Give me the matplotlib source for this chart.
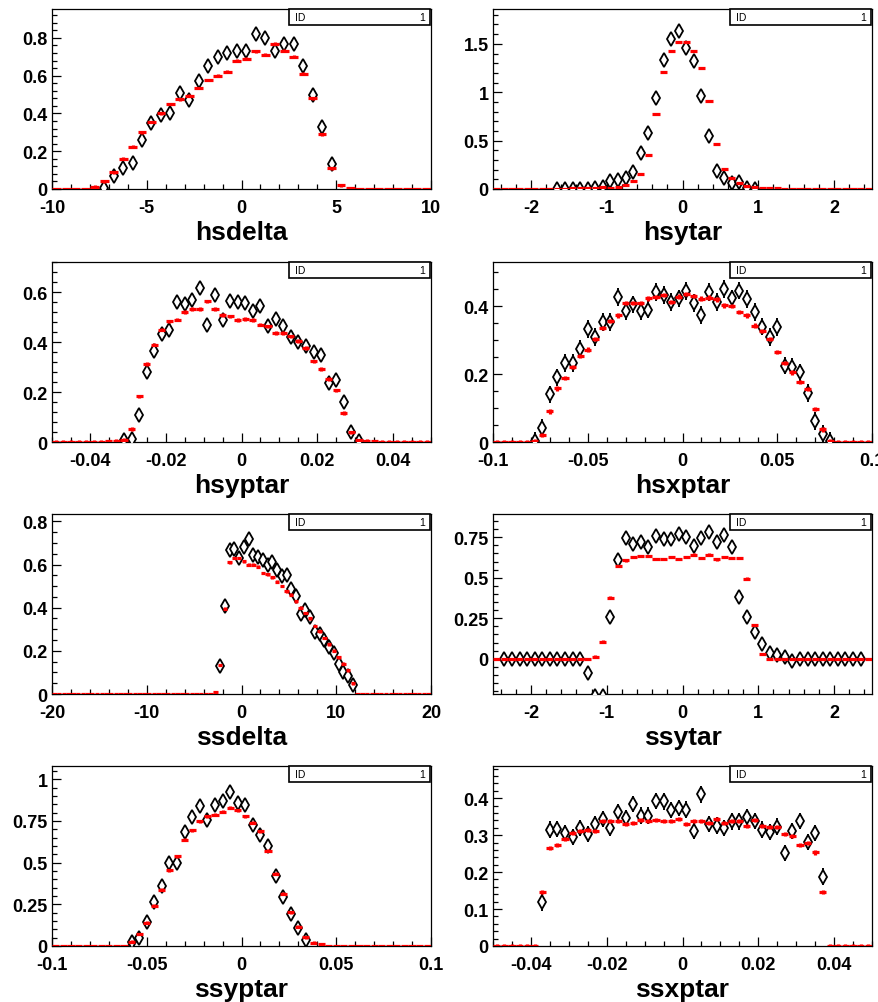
import numpy as np
import matplotlib
matplotlib.use("Agg")
import matplotlib.pyplot as plt
from matplotlib.ticker import MultipleLocator, FuncFormatter
from matplotlib.patches import Rectangle

plt.rcParams['font.family'] = ['Liberation Sans', 'DejaVu Sans']

# --- data (bin contents) ---
# hsdelta: 40 bins on [-10,10]
hsdelta_data = [0.005, 0.07, 0.11, 0.14, 0.26, 0.35, 0.39, 0.40, 0.51, 0.47, 0.57, 0.65, 0.70,
                0.72, 0.73, 0.73, 0.82, 0.80, 0.73, 0.77, 0.77, 0.65, 0.50, 0.33, 0.135]
hsdelta_mc = [0.012, 0.04, 0.088, 0.16, 0.225, 0.30, 0.355, 0.40, 0.45, 0.475, 0.495, 0.535, 0.577,
              0.60, 0.62, 0.68, 0.69, 0.73, 0.71, 0.77, 0.733, 0.70, 0.61, 0.48, 0.29, 0.11, 0.02, 0.003]

# hsytar: 50 bins on [-2.5,2.5]
hsytar_data = [0.002, 0.002, 0.003, 0.003, 0.004, 0.008, 0.02, 0.08, 0.09, 0.115, 0.18, 0.37, 0.58,
               0.94, 1.33, 1.545, 1.63, 1.455, 1.32, 0.96, 0.55, 0.185, 0.11, 0.06, 0.07, 0.01, 0.004]
hsytar_mc = [0.005, 0.006, 0.008, 0.01, 0.012, 0.02, 0.015, 0.02, 0.04, 0.085, 0.155, 0.35, 0.78,
             1.21, 1.43, 1.52, 1.52, 1.43, 1.25, 0.91, 0.47, 0.205, 0.11, 0.06, 0.035, 0.017,
             0.01, 0.008, 0.006, 0.005, 0.005, 0.004, 0.004]

# hsyptar: 50 bins on [-0.05,0.05]
hsyptar_data = [0.008, 0.012, 0.107, 0.28, 0.363, 0.432, 0.45, 0.56, 0.553, 0.57, 0.616, 0.47, 0.59,
                0.49, 0.563, 0.56, 0.556, 0.523, 0.545, 0.463, 0.492, 0.465, 0.42, 0.40, 0.383,
                0.36, 0.35, 0.236, 0.25, 0.16, 0.039, 0.005]
hsyptar_mc = [0.003, 0.005, 0.01, 0.053, 0.183, 0.312, 0.39, 0.45, 0.483, 0.49, 0.52, 0.532, 0.532,
              0.563, 0.532, 0.508, 0.503, 0.488, 0.493, 0.488, 0.47, 0.463, 0.436, 0.436, 0.423,
              0.405, 0.376, 0.323, 0.292, 0.253, 0.207, 0.116, 0.039, 0.007, 0.005, 0.003]

# hsxptar: 50 bins on [-0.1,0.1]
hsxptar_data = [0.003, 0.041, 0.14, 0.19, 0.232, 0.232, 0.274, 0.333, 0.31, 0.353, 0.353, 0.427,
                0.385, 0.405, 0.385, 0.39, 0.442, 0.433, 0.413, 0.423, 0.444, 0.41, 0.373, 0.442,
                0.412, 0.451, 0.423, 0.446, 0.422, 0.383, 0.34, 0.31, 0.339, 0.225, 0.222, 0.205,
                0.145, 0.062, 0.025, 0.003]
hsxptar_mc = [0.003, 0.02, 0.09, 0.158, 0.188, 0.22, 0.254, 0.272, 0.303, 0.336, 0.356, 0.373, 0.41,
              0.41, 0.41, 0.423, 0.427, 0.432, 0.413, 0.428, 0.435, 0.43, 0.422, 0.425, 0.42, 0.402,
              0.40, 0.383, 0.373, 0.343, 0.326, 0.304, 0.265, 0.232, 0.205, 0.176, 0.156, 0.097,
              0.037, 0.003]

# ssdelta: 80 bins on [-20,20]
ssdelta_data = [0.13, 0.41, 0.665, 0.67, 0.63, 0.68, 0.72, 0.645, 0.635, 0.62, 0.60, 0.61, 0.575,
                0.545, 0.55, 0.485, 0.455, 0.37, 0.39, 0.355, 0.285, 0.28, 0.25, 0.22, 0.19, 0.14,
                0.10, 0.085, 0.04]
ssdelta_mc = [0.007, 0.135, 0.395, 0.61, 0.63, 0.63, 0.615, 0.60, 0.60, 0.59, 0.56, 0.555, 0.54,
              0.52, 0.50, 0.475, 0.46, 0.43, 0.40, 0.375, 0.35, 0.315, 0.29, 0.26, 0.23, 0.20, 0.17,
              0.14, 0.11, 0.05]

# ssytar: 50 bins on [-2.5,2.5]
ssytar_data = [0, 0, 0, 0, 0, 0, 0, 0, 0, 0, 0, -0.088, -0.23, -0.23, 0.26, 0.607, 0.746, 0.705,
               0.72, 0.689, 0.756, 0.74, 0.74, 0.77, 0.75, 0.693, 0.744, 0.78, 0.72, 0.764, 0.689,
               0.382, 0.255, 0.163, 0.092, 0.035, 0.025, 0.014, -0.016, 0, 0, 0, 0, 0, 0, 0, 0, 0]
ssytar_mc = [0.014, 0.106, 0.378, 0.572, 0.607, 0.627, 0.634, 0.634, 0.617, 0.617, 0.627, 0.617,
             0.627, 0.642, 0.623, 0.642, 0.613, 0.627, 0.623, 0.623, 0.495, 0.208, 0.029]

# ssyptar: 50 bins on [-0.1,0.1]
ssyptar_data = [0.026, 0.05, 0.147, 0.267, 0.361, 0.498, 0.498, 0.683, 0.775, 0.839, 0.759, 0.849,
                0.869, 0.926, 0.859, 0.849, 0.729, 0.669, 0.598, 0.418, 0.293, 0.193, 0.106, 0.036]
ssyptar_mc = [0.026, 0.072, 0.14, 0.241, 0.337, 0.454, 0.538, 0.639, 0.695, 0.749, 0.779, 0.789,
              0.805, 0.829, 0.815, 0.779, 0.739, 0.689, 0.572, 0.434, 0.313, 0.203, 0.116, 0.052,
              0.02, 0.01]

# ssxptar: 50 bins on [-0.05,0.05]
ssxptar_data = [0.118, 0.315, 0.317, 0.306, 0.294, 0.319, 0.303, 0.33, 0.344, 0.319, 0.362, 0.346,
                0.385, 0.353, 0.353, 0.392, 0.391, 0.367, 0.373, 0.369, 0.312, 0.41, 0.33, 0.326,
                0.319, 0.337, 0.337, 0.348, 0.338, 0.315, 0.308, 0.323, 0.252, 0.312, 0.339, 0.282,
                0.306, 0.188]
ssxptar_mc = [0.145, 0.265, 0.273, 0.29, 0.305, 0.31, 0.314, 0.312, 0.339, 0.339, 0.339, 0.33, 0.333,
              0.342, 0.338, 0.342, 0.339, 0.337, 0.344, 0.33, 0.339, 0.339, 0.333, 0.344, 0.333,
              0.339, 0.338, 0.324, 0.342, 0.324, 0.321, 0.321, 0.303, 0.297, 0.273, 0.279, 0.253,
              0.145]

# name, xlo, xhi, nbins, data first center, data, data err, mc first center, mc, ylo, yhi,
# x major, x minor, y major, y minor
panels = [
    ("hsdelta", -10, 10, 40, -7.25, hsdelta_data, 0.03, -7.75, hsdelta_mc, 0, 0.953, 5, 1, 0.2, 0.04),
    ("hsytar", -2.5, 2.5, 50, -1.65, hsytar_data, 0.04, -1.55, hsytar_mc, 0, 1.86, 1, 0.2, 0.5, 0.1),
    ("hsyptar", -0.05, 0.05, 50, -0.031, hsyptar_data, 0.028, -0.035, hsyptar_mc, 0, 0.72, 0.02, 0.005, 0.2, 0.04),
    ("hsxptar", -0.1, 0.1, 50, -0.078, hsxptar_data, 0.026, -0.078, hsxptar_mc, 0, 0.53, 0.05, 0.01, 0.2, 0.05),
    ("ssdelta", -20, 20, 80, -2.25, ssdelta_data, 0.025, -2.75, ssdelta_mc, 0, 0.834, 10, 2, 0.2, 0.05),
    ("ssytar", -2.5, 2.5, 50, -2.35, ssytar_data, 0.03, -1.15, ssytar_mc, -0.217, 0.893, 1, 0.2, 0.25, 0.05),
    ("ssyptar", -0.1, 0.1, 50, -0.058, ssyptar_data, 0.035, -0.058, ssyptar_mc, 0, 1.08, 0.05, 0.01, 0.25, 0.05),
    ("ssxptar", -0.05, 0.05, 50, -0.037, ssxptar_data, 0.022, -0.037, ssxptar_mc, 0, 0.487, 0.02, 0.005, 0.1, 0.02),
]


def fill_bins(lo, bw, n, start, vals, fill):
    arr = np.full(n, fill, dtype=float)
    i0 = int(round((start - lo) / bw - 0.5))
    arr[i0:i0 + len(vals)] = vals
    return arr


fig = plt.figure(figsize=(8.79, 10.03), dpi=100)
W, H = 879.0, 1003.0
lefts = [52, 493]
tops = [10, 263, 515, 767]
aw, ah = 379, 180

fmt = FuncFormatter(lambda v, p: "%g" % round(v, 6))

for k, (name, xlo, xhi, n, d0, dvals, derr, m0, mvals, ylo, yhi, xmaj, xmin, ymaj, ymin) in enumerate(panels):
    r, c = divmod(k, 2)
    ax = fig.add_axes([lefts[c] / W, 1 - (tops[r] + ah) / H, aw / W, ah / H])
    bw = (xhi - xlo) / n
    centers = xlo + bw * (np.arange(n) + 0.5)
    data = fill_bins(xlo, bw, n, d0, dvals, np.nan)
    mc = fill_bins(xlo, bw, n, m0, mvals, 0.0)

    ax.errorbar(centers, data, yerr=derr, fmt='d', ms=7.5, mfc='white', mec='black', mew=1.3,
                ecolor='black', elinewidth=1.4, capsize=0, zorder=3)
    ax.errorbar(centers, mc, xerr=0.47 * bw, yerr=derr * 0.25, fmt='none', ecolor='red',
                elinewidth=2.3, capsize=0, zorder=4)

    ax.set_xlim(xlo, xhi)
    ax.set_ylim(ylo, yhi)
    ax.xaxis.set_major_locator(MultipleLocator(xmaj))
    ax.xaxis.set_minor_locator(MultipleLocator(xmin))
    ax.yaxis.set_major_locator(MultipleLocator(ymaj))
    ax.yaxis.set_minor_locator(MultipleLocator(ymin))
    ax.xaxis.set_major_formatter(fmt)
    ax.yaxis.set_major_formatter(fmt)
    ax.tick_params(which='both', direction='in', top=False, right=False, width=0.9)
    ax.tick_params(which='major', length=6.5)
    ax.tick_params(which='minor', length=3.3)
    ax.tick_params(axis='x', pad=7)
    ax.tick_params(axis='y', pad=3)
    for lab in ax.get_xticklabels() + ax.get_yticklabels():
        lab.set_fontsize(13)
        lab.set_fontweight('bold')
    for sp in ax.spines.values():
        sp.set_linewidth(0.9)
    ax.set_xlabel(name, fontsize=19, fontweight='bold', labelpad=3)

    # stats box
    ax.add_patch(Rectangle((0.625, 0.911), 0.372, 0.089, transform=ax.transAxes, facecolor='white',
                           edgecolor='black', lw=1.2, clip_on=False, zorder=6))
    ax.text(0.64, 0.955, "ID", transform=ax.transAxes, fontsize=7.5, va='center', ha='left', zorder=7)
    ax.text(0.985, 0.955, "1", transform=ax.transAxes, fontsize=7.5, va='center', ha='right', zorder=7)

fig.savefig("out.png", dpi=100)
